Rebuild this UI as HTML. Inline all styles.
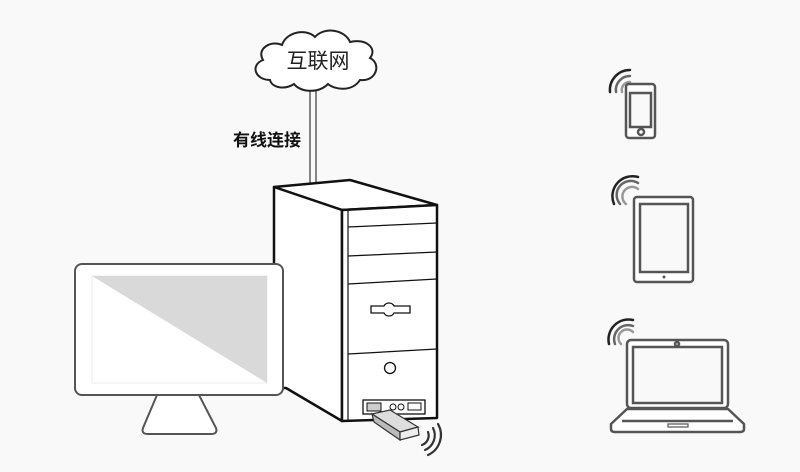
<!DOCTYPE html>
<html><head><meta charset="utf-8"><style>
html,body{margin:0;padding:0;background:#f9f9f9;}
svg{display:block}
</style></head><body>
<svg width="800" height="472" viewBox="0 0 800 472" xmlns="http://www.w3.org/2000/svg">
<rect width="800" height="472" fill="#f9f9f9"/>
<line x1="310" y1="88" x2="310" y2="184" stroke="#444" stroke-width="1.3"/>
<line x1="316" y1="88" x2="316" y2="184" stroke="#444" stroke-width="1.3"/>
<path d="M270 80 C255 80 250 65 263 60 C256 48 272 40 282 45 C286 32 306 28 315 37 C325 26 345 30 350 42 C365 38 378 48 370 58 C382 64 376 82 360 80 C352 92 335 90 328 84 C318 94 300 92 294 84 C285 90 272 88 270 80 Z" fill="#fff" stroke="#222" stroke-width="2"/>
<text x="318" y="68" font-family="Liberation Sans, Noto Sans CJK SC, sans-serif" font-size="21" fill="#222" text-anchor="middle">互联网</text>
<text x="233" y="146" font-family="Liberation Sans, Noto Sans CJK SC, sans-serif" font-size="17" font-weight="bold" fill="#111">有线连接</text>
<polygon points="274,187 350,180 437,205 342,210" fill="#fff" stroke="#111" stroke-width="2.5" stroke-linejoin="round"/>
<polygon points="274,187 342,210 342,421 286,388 274,388" fill="#fff" stroke="#111" stroke-width="2.5" stroke-linejoin="round"/>
<polygon points="342,210 437,205 437,418 342,421" fill="#fff" stroke="#111" stroke-width="2.5" stroke-linejoin="round"/>
<line x1="348" y1="210" x2="348" y2="420" stroke="#111" stroke-width="1.2"/>
<line x1="348" y1="227" x2="437" y2="223" stroke="#111" stroke-width="1.3"/>
<line x1="348" y1="256" x2="437" y2="252" stroke="#111" stroke-width="1.3"/>
<line x1="348" y1="284" x2="437" y2="279" stroke="#111" stroke-width="1.3"/>
<line x1="348" y1="354" x2="437" y2="349" stroke="#111" stroke-width="1.3"/>
<path d="M371 306 L384 306 C386 302 392 302 394 306 L410 306 L410 313 L394 313 C392 317 386 317 384 313 L371 313 Z" fill="#fff" stroke="#111" stroke-width="1.3"/>
<circle cx="390" cy="368" r="5.5" fill="#fff" stroke="#111" stroke-width="1.3"/>
<rect x="363" y="400" width="62" height="14" fill="#fff" stroke="#111" stroke-width="1.3"/>
<rect x="367" y="403" width="14" height="8" fill="#ccc" stroke="#111" stroke-width="1"/>
<circle cx="393" cy="407" r="3" fill="#fff" stroke="#111" stroke-width="1"/>
<circle cx="401" cy="407" r="3" fill="#fff" stroke="#111" stroke-width="1"/>
<rect x="408" y="403" width="13" height="7" fill="#fff" stroke="#111" stroke-width="1"/>
<polygon points="372,414 390,410 418,427 400,432" fill="#ddd" stroke="#333" stroke-width="1.2"/>
<polygon points="372,414 400,432 400,440 374,422" fill="#bbb" stroke="#333" stroke-width="1.2"/>
<polygon points="400,432 418,427 419,435 400,440" fill="#eee" stroke="#333" stroke-width="1.2"/>
<g fill="none" stroke="#333" stroke-width="2.2" stroke-linecap="round">
<path d="M428 432 A10 10 0 0 1 422 445"/>
<path d="M433 428 A16 16 0 0 1 425 450"/>
<path d="M438 424 A22 22 0 0 1 428 455"/>
</g>
<path d="M157 395 L199 395 L216 428 Q218 434 211 434 L148 434 Q141 434 143 428 Z" fill="#fff" stroke="#555" stroke-width="2"/>
<rect x="75" y="264" width="208" height="131" rx="7" fill="#fff" stroke="#555" stroke-width="2"/>
<rect x="92" y="276" width="175" height="107" fill="#fff" stroke="#eee" stroke-width="1"/>
<polygon points="92,276 267,276 267,383" fill="#d9d9d9"/>
<g fill="none" stroke="#555" stroke-width="2.5" stroke-linecap="round">
<path d="M610 92 A20 20 0 0 1 630 70" stroke="#222"/>
<path d="M616 92 A14 14 0 0 1 630 76" stroke="#666"/>
<path d="M622 92 A8 8 0 0 1 630 82" stroke="#999"/>
<path d="M614 204 A20 20 0 0 1 638 177" stroke="#222"/>
<path d="M620 204 A14 14 0 0 1 638 183" stroke="#666"/>
<path d="M626 204 A8 8 0 0 1 638 189" stroke="#999"/>
<path d="M609 344 A20 20 0 0 1 633 320" stroke="#222"/>
<path d="M615 344 A14 14 0 0 1 633 326" stroke="#666"/>
<path d="M621 344 A8 8 0 0 1 633 332" stroke="#999"/>
</g>
<g fill="#fff" stroke="#555" stroke-width="2.5">
<rect x="626" y="84" width="29" height="54" rx="3"/>
<rect x="630" y="93" width="21" height="34" fill="#f9f9f9"/>
<circle cx="641" cy="132" r="3"/>
<rect x="634" y="197" width="59" height="85" rx="3"/>
<rect x="640" y="204" width="48" height="68" fill="#f9f9f9"/>
<rect x="627" y="340" width="101" height="68" rx="4"/>
<rect x="633" y="347" width="89" height="56" fill="#f9f9f9"/>
<circle cx="677" cy="344" r="2"/>
<path d="M627 409 L728 409 L744 424 L744 429 Q744 432 740 432 L615 432 Q611 432 611 429 L611 424 Z"/>
<line x1="622" y1="421" x2="733" y2="421"/>
<rect x="668" y="424" width="20" height="3" stroke-width="1.2"/>
</g>
<circle cx="664" cy="277" r="1.5" fill="#555"/>
</svg>
</body></html>
